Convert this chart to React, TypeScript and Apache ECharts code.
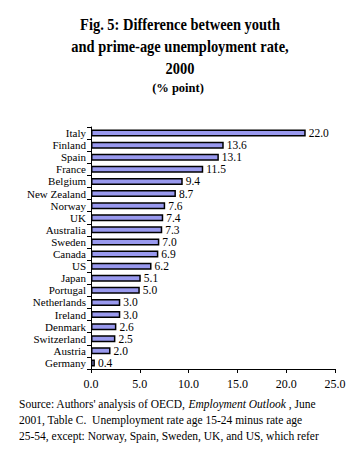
import React, { useEffect, useRef } from "react";
import * as echarts from "echarts";

const countries = [
  "Italy", "Finland", "Spain", "France", "Belgium", "New Zealand", "Norway", "UK",
  "Australia", "Sweden", "Canada", "US", "Japan", "Portugal", "Netherlands",
  "Ireland", "Denmark", "Switzerland", "Austria", "Germany",
];
const gaps = [22.0, 13.6, 13.1, 11.5, 9.4, 8.7, 7.6, 7.4, 7.3, 7.0, 6.9, 6.2, 5.1, 5.0, 3.0, 3.0, 2.6, 2.5, 2.0, 0.4];
const titleLines = ["Fig. 5: Difference between youth", "and prime-age unemployment rate,", "2000"];
const subtitle = "(% point)";
const sourceLines = [
  "{n|Source: Authors' analysis of OECD, }{i|Employment Outlook}{n| , June}",
  "{n|2001, Table C.  Unemployment rate age 15-24 minus rate age}",
  "{n|25-54, except: Norway, Spain, Sweden, UK, and US, which refer}",
];

const FONT = "Liberation Serif";

export default function App() {
  const ref = useRef<HTMLDivElement>(null);
  useEffect(() => {
    const chart = echarts.init(ref.current!, null, { renderer: "svg" });
    const titleY = [24, 46.5, 68.5];
    chart.setOption({
      animation: false,
      backgroundColor: "#ffffff",
      textStyle: { fontFamily: FONT },
      grid: { left: 91, right: 20, top: 127, bottom: 87, containLabel: false },
      xAxis: {
        type: "value",
        min: 0,
        max: 25,
        interval: 5,
        axisLine: { show: true, lineStyle: { color: "#000", width: 1 } },
        axisTick: { show: true, length: 4, lineStyle: { color: "#000" } },
        splitLine: { show: false },
        axisLabel: {
          fontFamily: FONT,
          fontSize: 12,
          color: "#000",
          margin: 9,
          formatter: (v: number) => v.toFixed(1),
        },
      },
      yAxis: {
        type: "category",
        data: countries,
        inverse: true,
        axisLine: { show: true, lineStyle: { color: "#000", width: 1 } },
        axisTick: { show: true, length: 4, lineStyle: { color: "#000" } },
        axisLabel: { fontFamily: FONT, fontSize: 11, lineHeight: 11, color: "#000", margin: 5, interval: 0 },
      },
      series: [
        {
          type: "bar",
          data: gaps,
          barWidth: 7,
          itemStyle: { color: "#9999ee", borderColor: "#000", borderWidth: 1.5 },
          label: {
            show: true,
            position: "right",
            distance: 3,
            fontFamily: FONT,
            fontSize: 11.5,
            lineHeight: 11,
            color: "#000",
            formatter: (p: any) => Number(p.value).toFixed(1),
          },
        },
      ],
      graphic: [
        ...titleLines.map((t, i) => ({
          type: "text",
          x: 180,
          y: titleY[i],
          scaleX: 0.85,
          style: {
            text: t,
            x: 0,
            y: 0,
            align: "center",
            verticalAlign: "middle",
            fontFamily: FONT,
            fontWeight: "bold",
            fontSize: 17,
            fill: "#000",
          },
        })),
        {
          type: "text",
          x: 178,
          y: 88,
          style: {
            text: subtitle,
            x: 0,
            y: 0,
            align: "center",
            verticalAlign: "middle",
            fontFamily: FONT,
            fontWeight: "bold",
            fontSize: 12.5,
            fill: "#000",
          },
        },
        {
          type: "text",
          left: 19,
          top: 396,
          style: {
            text: sourceLines.join("\n"),
            lineHeight: 16,
            rich: {
              n: { fontFamily: FONT, fontSize: 11.5, color: "#000", lineHeight: 16 },
              i: { fontFamily: FONT, fontSize: 11.5, fontStyle: "italic", color: "#000", lineHeight: 16 },
            },
          },
        },
      ],
    });
    return () => chart.dispose();
  }, []);
  return <div ref={ref} style={{ width: 355, height: 456, marginLeft: -8, marginTop: -8 }} />;
}
